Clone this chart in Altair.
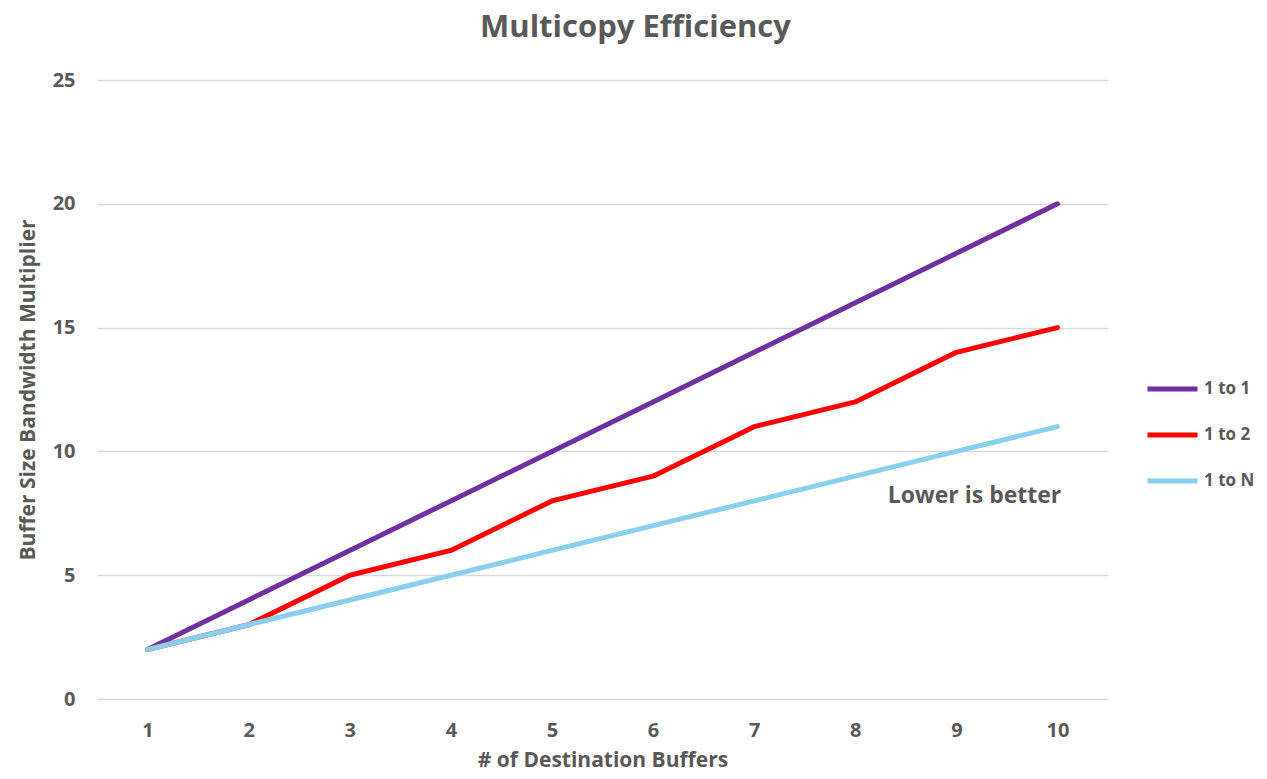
import altair as alt
import pandas as pd

buffers = [1, 2, 3, 4, 5, 6, 7, 8, 9, 10]
one_to_one = [2, 4, 6, 8, 10, 12, 14, 16, 18, 20]
one_to_two = [2, 3, 5, 6, 8, 9, 11, 12, 14, 15]
one_to_n = [2, 3, 4, 5, 6, 7, 8, 9, 10, 11]
series_names = ["1 to 1", "1 to 2", "1 to N"]
series_colors = ["#7030A0", "#FF0000", "#89CFF0"]
y_ticks = [0, 5, 10, 15, 20, 25]

rows = []
for name, vals in zip(series_names, [one_to_one, one_to_two, one_to_n]):
    for b, v in zip(buffers, vals):
        rows.append({"buffers": b, "value": v, "series": name})
df = pd.DataFrame(rows)

note_df = pd.DataFrame({"x": [9.18], "y": [8.2], "text": ["Lower is better"]})

FONT = "Open Sans"
TXT = "#595959"

x_enc = alt.X("buffers:Q",
              scale=alt.Scale(domain=[0.5, 10.5], nice=False, zero=False),
              axis=alt.Axis(values=buffers, format="d", title="# of Destination Buffers",
                            grid=False, domain=False, ticks=False,
                            labelPadding=21, titlePadding=9))
y_enc = alt.Y("value:Q",
              scale=alt.Scale(domain=[0, 25], nice=False),
              axis=alt.Axis(values=y_ticks, title="Buffer Size Bandwidth Multiplier",
                            grid=True, domain=False, ticks=False,
                            labelPadding=22, titlePadding=14))

lines = alt.Chart(df).mark_line(strokeWidth=5, strokeCap="round", strokeJoin="round").encode(
    x=x_enc,
    y=y_enc,
    color=alt.Color("series:N",
                    scale=alt.Scale(domain=series_names, range=series_colors),
                    legend=alt.Legend(title=None, orient="none", legendX=1048, legendY=286,
                                      symbolType="stroke", symbolSize=2500,
                                      symbolStrokeWidth=5, rowPadding=0, clipHeight=46,
                                      labelFontSize=17, labelFont=FONT,
                                      labelFontWeight="bold", labelColor=TXT,
                                      labelOffset=4)),
)

note = alt.Chart(note_df).mark_text(font=FONT, fontWeight="bold", fontSize=23,
                                    color=TXT, align="center", baseline="middle").encode(
    x="x:Q", y="y:Q", text="text:N"
)

chart = alt.layer(lines, note).properties(
    width=1011, height=619,
    title=alt.TitleParams("Multicopy Efficiency", anchor="middle", dx=33, offset=26,
                          font=FONT, fontSize=31, fontWeight="bold", color=TXT),
    autosize=alt.AutoSizeParams(type="none"),
    padding={"left": 89, "top": 72, "right": 150, "bottom": 72},
).configure_view(stroke=None).configure_axis(
    labelFont=FONT, labelFontSize=20, labelFontWeight="bold", labelColor=TXT,
    titleFont=FONT, titleFontSize=21, titleFontWeight="bold", titleColor=TXT,
    gridColor="#D9D9D9", gridWidth=1.5,
)

chart.save("out.html", embed_options={"renderer": "svg", "actions": False})
